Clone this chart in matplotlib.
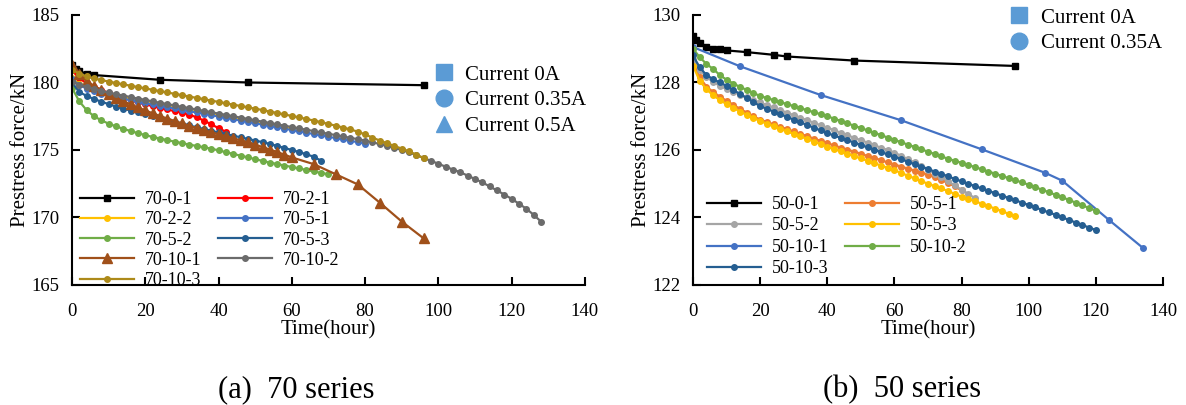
import matplotlib
matplotlib.use("Agg")
import matplotlib.pyplot as plt
from matplotlib.lines import Line2D

plt.rcParams['font.family'] = ['Liberation Serif', 'DejaVu Serif']

# sampling grid of the tests (hours), 2 h step
t2 = list(range(0, 130, 2))

# ---------------- 70 series ----------------
t_70_0_1 = [0, 1, 2, 4, 6, 24, 48, 96]
v_70_0_1 = [181.3, 181.0, 180.85, 180.65, 180.55, 180.2, 180.0, 179.8]

v_70_2_1 = [180.9, 180.3, 179.95, 179.68, 179.45, 179.23, 179.03, 178.85, 178.68, 178.52,
            178.38, 178.25, 178.12, 178.0, 177.88, 177.76, 177.62, 177.42, 177.18, 176.9,
            176.62, 176.35]

v_70_2_2 = [180.3, 179.9, 179.62, 179.43, 179.28, 179.15, 179.03, 178.92, 178.81, 178.7,
            178.6, 178.5, 178.4, 178.3, 178.2, 178.1, 178.0, 177.9, 177.8, 177.7,
            177.6, 177.5, 177.4, 177.3, 177.2, 177.1, 177.0, 176.9, 176.8, 176.7, 176.6]

v_70_5_1 = [180.25, 179.8, 179.55, 179.35, 179.18, 179.04, 178.92, 178.8, 178.69, 178.58,
            178.48, 178.38, 178.28, 178.18, 178.08, 177.98, 177.88, 177.78, 177.68, 177.58,
            177.48, 177.38, 177.28, 177.18, 177.08, 176.98, 176.88, 176.78, 176.68, 176.58,
            176.48, 176.38, 176.28, 176.18, 176.08, 175.98, 175.88, 175.78, 175.68, 175.58,
            175.48]

v_70_5_2 = [179.6, 178.6, 177.95, 177.5, 177.2, 176.95, 176.75, 176.57, 176.4, 176.25,
            176.1, 175.97, 175.85, 175.73, 175.62, 175.51, 175.4, 175.3, 175.2, 175.1,
            174.97, 174.84, 174.71, 174.58, 174.45, 174.32, 174.19, 174.07, 173.96, 173.85,
            173.74, 173.63, 173.52, 173.41, 173.3, 173.2]

v_70_5_3 = [180.0, 179.3, 179.0, 178.78, 178.58, 178.4, 178.22, 178.06, 177.92, 177.78,
            177.65, 177.52, 177.38, 177.24, 177.1, 176.96, 176.82, 176.68, 176.55, 176.42,
            176.3, 176.18, 176.06, 175.94, 175.82, 175.7, 175.58, 175.45, 175.3, 175.15,
            175.0, 174.85, 174.68, 174.5, 174.2]

t_70_10_1 = t2[:31] + [66, 72, 78, 84, 90, 96]
v_70_10_1 = [181.3, 180.6, 180.1, 179.75, 179.45, 179.15, 178.88, 178.62, 178.38, 178.15,
             177.93, 177.72, 177.52, 177.33, 177.15, 176.97, 176.8, 176.63, 176.47, 176.32,
             176.17, 176.02, 175.87, 175.72, 175.57, 175.4, 175.22, 175.03, 174.85, 174.65,
             174.45, 173.95, 173.2, 172.45, 171.1, 169.7, 168.45]

v_70_10_2 = [180.05, 179.85, 179.68, 179.52, 179.38, 179.26, 179.14, 179.03, 178.92, 178.81,
             178.71, 178.6, 178.5, 178.4, 178.3, 178.2, 178.1, 178.0, 177.9, 177.8,
             177.7, 177.6, 177.5, 177.4, 177.3, 177.2, 177.1, 177.0, 176.9, 176.8,
             176.7, 176.6, 176.5, 176.4, 176.3, 176.2, 176.1, 176.0, 175.9, 175.8,
             175.7, 175.57, 175.44, 175.3, 175.15, 175.0, 174.83, 174.62, 174.4, 174.2,
             173.98, 173.76, 173.55, 173.35, 173.1, 172.85, 172.6, 172.3, 172.0, 171.7,
             171.38, 171.02, 170.65, 170.2, 169.7]

v_70_10_3 = [180.95, 180.65, 180.45, 180.3, 180.18, 180.07, 179.96, 179.86, 179.76, 179.66,
             179.56, 179.46, 179.36, 179.26, 179.16, 179.06, 178.96, 178.86, 178.76, 178.66,
             178.56, 178.46, 178.36, 178.26, 178.16, 178.06, 177.96, 177.85, 177.74, 177.63,
             177.52, 177.41, 177.3, 177.18, 177.06, 176.93, 176.8, 176.66, 176.52, 176.36,
             176.15, 175.92, 175.7, 175.5, 175.3, 175.1, 174.9, 174.65, 174.4]

# ---------------- 50 series ----------------
t_50_0_1 = [0, 0.8, 2, 4, 6, 8, 10, 16, 24, 28, 48, 96]
v_50_0_1 = [129.37, 129.25, 129.18, 129.05, 129.0, 128.98, 128.95, 128.9, 128.82, 128.77,
            128.65, 128.49]

v_50_5_1 = [128.6, 128.15, 127.88, 127.72, 127.58, 127.46, 127.34, 127.22, 127.11, 127.0,
            126.9, 126.83, 126.76, 126.69, 126.62, 126.55, 126.48, 126.41, 126.34, 126.27,
            126.2, 126.14, 126.07, 126.01, 125.95, 125.89, 125.82, 125.76, 125.7, 125.63,
            125.57, 125.51, 125.45, 125.39, 125.33, 125.27, 125.19, 125.11, 125.02, 124.92,
            124.8]

v_50_5_2 = [128.7, 128.38, 128.16, 128.02, 127.9, 127.8, 127.72, 127.64, 127.56, 127.48,
            127.41, 127.33, 127.26, 127.18, 127.11, 127.03, 126.96, 126.88, 126.81, 126.73,
            126.66, 126.59, 126.51, 126.44, 126.36, 126.29, 126.22, 126.14, 126.07, 126.0,
            125.92, 125.83, 125.73, 125.63, 125.53, 125.42, 125.3, 125.19, 125.07, 124.95,
            124.82, 124.7, 124.57]

v_50_5_3 = [128.5, 128.05, 127.8, 127.62, 127.48, 127.36, 127.25, 127.14, 127.04, 126.95,
            126.86, 126.78, 126.7, 126.63, 126.55, 126.48, 126.4, 126.33, 126.25, 126.18,
            126.1, 126.03, 125.96, 125.89, 125.82, 125.75, 125.68, 125.61, 125.54, 125.47,
            125.4, 125.32, 125.24, 125.16, 125.08, 125.0, 124.93, 124.86, 124.78, 124.7,
            124.62, 124.55, 124.48, 124.41, 124.34, 124.26, 124.19, 124.11, 124.04]

t_50_10_1 = [0, 14, 38, 62, 86, 105, 110, 124, 134]
v_50_10_1 = [129.05, 128.48, 127.63, 126.88, 126.02, 125.32, 125.09, 123.92, 123.1]

v_50_10_2 = [129.0, 128.75, 128.55, 128.4, 128.22, 128.08, 127.97, 127.87, 127.78, 127.69,
             127.6, 127.54, 127.48, 127.42, 127.36, 127.3, 127.24, 127.18, 127.12, 127.06,
             127.0, 126.93, 126.86, 126.79, 126.72, 126.65, 126.58, 126.51, 126.44, 126.37,
             126.3, 126.23, 126.16, 126.09, 126.02, 125.95, 125.88, 125.81, 125.74, 125.68,
             125.62, 125.56, 125.49, 125.43, 125.36, 125.3, 125.23, 125.17, 125.1, 125.04,
             124.97, 124.9, 124.82, 124.75, 124.67, 124.6, 124.52, 124.44, 124.36, 124.28,
             124.2]

v_50_10_3 = [128.8, 128.45, 128.22, 128.1, 128.0, 127.9, 127.78, 127.66, 127.54, 127.42,
             127.3, 127.22, 127.14, 127.06, 126.98, 126.9, 126.82, 126.74, 126.66, 126.58,
             126.5, 126.43, 126.36, 126.29, 126.22, 126.15, 126.08, 126.01, 125.94, 125.87,
             125.8, 125.73, 125.65, 125.58, 125.51, 125.44, 125.36, 125.29, 125.22, 125.14,
             125.07, 125.0, 124.93, 124.86, 124.79, 124.72, 124.65, 124.58, 124.51, 124.44,
             124.37, 124.3, 124.22, 124.15, 124.08, 124.0, 123.93, 123.85, 123.78, 123.7,
             123.63]

current_labels = ['Current 0A', 'Current 0.35A', 'Current 0.5A']
current_markers = ['s', 'o', '^']


def style_axes(ax, ylim, yticks):
    ax.set_xlim(0, 140)
    ax.set_ylim(*ylim)
    ax.set_xticks(range(0, 141, 20))
    ax.set_yticks(yticks)
    ax.spines['top'].set_visible(False)
    ax.spines['right'].set_visible(False)
    for s in ['left', 'bottom']:
        ax.spines[s].set_linewidth(1.5)
    ax.tick_params(direction='in', length=6, width=1.5, labelsize=13.5)
    ax.tick_params(axis='x', pad=13)
    ax.tick_params(axis='y', pad=9)
    ax.set_xlabel('Time(hour)', fontsize=15, labelpad=0)
    ax.set_ylabel('Prestress force/kN', fontsize=15, labelpad=1)


def line(ax, t, v, color, label, marker='o', ms=4):
    ax.plot(t[:len(v)], v, color=color, lw=1.6, marker=marker, ms=ms, label=label)


def row_order(handles, ncol=2):
    # Excel fills the legend row by row, matplotlib column by column
    return [handles[i] for c in range(ncol) for i in range(c, len(handles), ncol)]


def series_legend(ax, anchor, spacing):
    h = row_order(ax.get_legend_handles_labels()[0])
    leg = ax.legend(handles=h, ncol=2, loc='upper left', bbox_to_anchor=anchor,
                    frameon=False, fontsize=13, handlelength=3.0, handletextpad=0.6,
                    labelspacing=spacing, columnspacing=0.9, borderaxespad=0, borderpad=0)
    ax.add_artist(leg)


def current_legend(ax, n, anchor):
    hc = [Line2D([], [], ls='none', marker=current_markers[i], color='#5B9BD5', ms=12)
          for i in range(n)]
    ax.legend(handles=hc, labels=current_labels[:n], loc='upper left',
              bbox_to_anchor=anchor, frameon=False, fontsize=15, handlelength=1.0,
              handletextpad=0.55, labelspacing=0.3, borderaxespad=0, borderpad=0)


fig = plt.figure(figsize=(11.86, 4.05), dpi=100)
ax1 = fig.add_axes([0.0607, 0.2963, 0.4325, 0.6667])
ax2 = fig.add_axes([0.5843, 0.2963, 0.3963, 0.6667])

# 70 series
line(ax1, t_70_0_1, v_70_0_1, 'black', '70-0-1', marker='s', ms=4.5)
line(ax1, t2, v_70_2_1, '#FF0000', '70-2-1')
line(ax1, t2, v_70_2_2, '#FFC000', '70-2-2')
line(ax1, t2, v_70_5_1, '#4472C4', '70-5-1')
line(ax1, t2, v_70_5_2, '#70AD47', '70-5-2')
line(ax1, t2, v_70_5_3, '#255E91', '70-5-3')
line(ax1, t_70_10_1, v_70_10_1, '#A0501A', '70-10-1', marker='^', ms=7)
line(ax1, t2, v_70_10_2, '#6B6B6B', '70-10-2')
line(ax1, t2, v_70_10_3, '#AD8A1A', '70-10-3')
style_axes(ax1, (165, 185), range(165, 186, 5))
series_legend(ax1, (0.0156, 0.348), 0.18)
current_legend(ax1, 3, (0.704, 0.815))

# 50 series
line(ax2, t_50_0_1, v_50_0_1, 'black', '50-0-1', marker='s', ms=4.5)
line(ax2, t2, v_50_5_1, '#ED7D31', '50-5-1')
line(ax2, t2, v_50_5_2, '#A5A5A5', '50-5-2')
line(ax2, t2, v_50_5_3, '#FFC000', '50-5-3')
line(ax2, t_50_10_1, v_50_10_1, '#4472C4', '50-10-1')
line(ax2, t2, v_50_10_2, '#70AD47', '50-10-2')
line(ax2, t2, v_50_10_3, '#255E91', '50-10-3')
style_axes(ax2, (122, 130), range(122, 131, 2))
series_legend(ax2, (0.0298, 0.33), 0.25)
current_legend(ax2, 2, (0.672, 1.026))

fig.text(0.25, 0.02, '(a)  70 series', fontsize=22, ha='center', va='baseline')
fig.text(0.761, 0.02, '(b)  50 series', fontsize=22, ha='center', va='baseline')

plt.savefig('out.png', dpi=100)
